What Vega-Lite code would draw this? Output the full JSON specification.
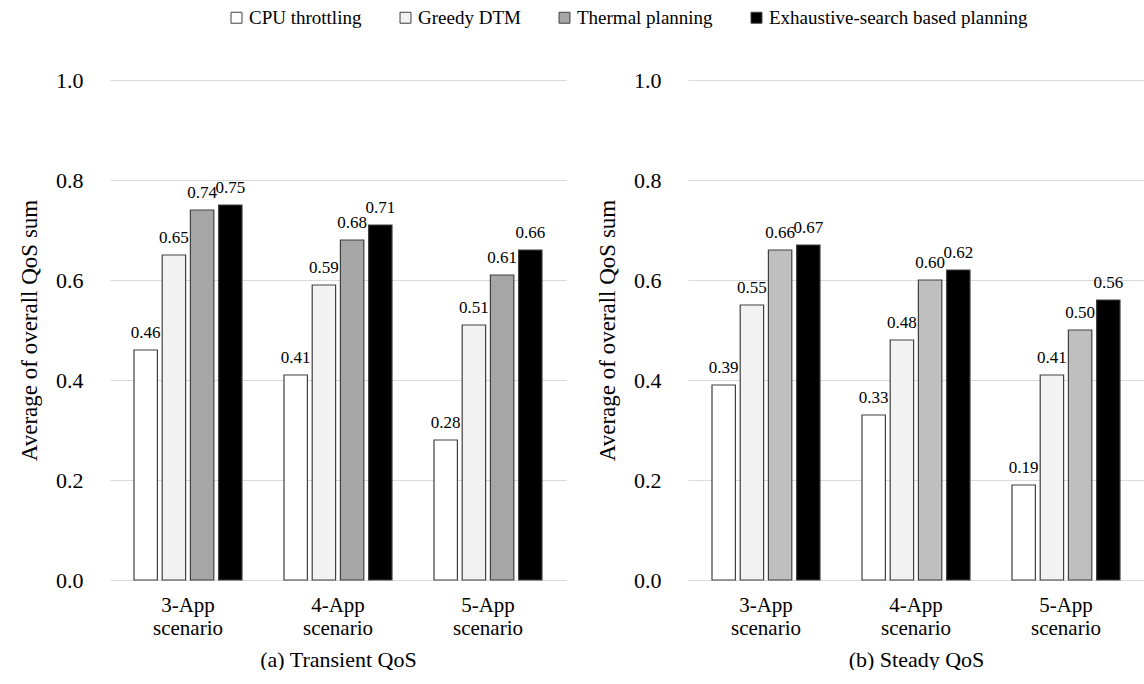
{
  "$schema": "https://vega.github.io/schema/vega-lite/v6.json",
  "background": "white",
  "padding": {"left": 18, "top": 8, "right": 0, "bottom": 0},
  "config": {
    "font": "'Liberation Serif', serif",
    "view": {"stroke": null},
    "text": {"font": "'Liberation Serif', serif"},
    "axis": {
      "labelFont": "'Liberation Serif', serif",
      "titleFont": "'Liberation Serif', serif",
      "labelColor": "#000000",
      "titleColor": "#000000",
      "gridColor": "#d9d9d9",
      "gridWidth": 1
    },
    "legend": {
      "labelFont": "'Liberation Serif', serif"
    },
    "concat": {"spacing": 30}
  },
  "data": {
    "values": [
      {"panel": "transient", "scenario": "3-App scenario", "method": "CPU throttling", "qos": 0.46},
      {"panel": "transient", "scenario": "3-App scenario", "method": "Greedy DTM", "qos": 0.65},
      {"panel": "transient", "scenario": "3-App scenario", "method": "Thermal planning", "qos": 0.74},
      {"panel": "transient", "scenario": "3-App scenario", "method": "Exhaustive-search based planning", "qos": 0.75},
      {"panel": "transient", "scenario": "4-App scenario", "method": "CPU throttling", "qos": 0.41},
      {"panel": "transient", "scenario": "4-App scenario", "method": "Greedy DTM", "qos": 0.59},
      {"panel": "transient", "scenario": "4-App scenario", "method": "Thermal planning", "qos": 0.68},
      {"panel": "transient", "scenario": "4-App scenario", "method": "Exhaustive-search based planning", "qos": 0.71},
      {"panel": "transient", "scenario": "5-App scenario", "method": "CPU throttling", "qos": 0.28},
      {"panel": "transient", "scenario": "5-App scenario", "method": "Greedy DTM", "qos": 0.51},
      {"panel": "transient", "scenario": "5-App scenario", "method": "Thermal planning", "qos": 0.61},
      {"panel": "transient", "scenario": "5-App scenario", "method": "Exhaustive-search based planning", "qos": 0.66},
      {"panel": "steady", "scenario": "3-App scenario", "method": "CPU throttling", "qos": 0.39},
      {"panel": "steady", "scenario": "3-App scenario", "method": "Greedy DTM", "qos": 0.55},
      {"panel": "steady", "scenario": "3-App scenario", "method": "Thermal planning", "qos": 0.66},
      {"panel": "steady", "scenario": "3-App scenario", "method": "Exhaustive-search based planning", "qos": 0.67},
      {"panel": "steady", "scenario": "4-App scenario", "method": "CPU throttling", "qos": 0.33},
      {"panel": "steady", "scenario": "4-App scenario", "method": "Greedy DTM", "qos": 0.48},
      {"panel": "steady", "scenario": "4-App scenario", "method": "Thermal planning", "qos": 0.60},
      {"panel": "steady", "scenario": "4-App scenario", "method": "Exhaustive-search based planning", "qos": 0.62},
      {"panel": "steady", "scenario": "5-App scenario", "method": "CPU throttling", "qos": 0.19},
      {"panel": "steady", "scenario": "5-App scenario", "method": "Greedy DTM", "qos": 0.41},
      {"panel": "steady", "scenario": "5-App scenario", "method": "Thermal planning", "qos": 0.50},
      {"panel": "steady", "scenario": "5-App scenario", "method": "Exhaustive-search based planning", "qos": 0.56}
    ]
  },
  "hconcat": [
    {
      "width": 456,
      "height": 500,
      "transform": [{"filter": "datum.panel === 'transient'"}],
      "encoding": {
        "x": {
          "field": "scenario",
          "type": "nominal",
          "scale": {"paddingInner": 0.28, "paddingOuter": 0.16},
          "axis": {
            "title": "(a) Transient QoS",
            "titleFontSize": 22,
            "titleFontWeight": "normal",
            "titlePadding": 11,
            "labelExpr": "split(datum.label, ' ')",
            "labelFontSize": 21,
            "labelAngle": 0,
            "labelPadding": 14,
            "labelLineHeight": 23,
            "domain": false,
            "ticks": false
          }
        },
        "xOffset": {
          "field": "method",
          "type": "nominal",
          "sort": ["CPU throttling", "Greedy DTM", "Thermal planning", "Exhaustive-search based planning"],
          "scale": {"paddingInner": 0.17, "paddingOuter": 0}
        },
        "y": {
          "field": "qos",
          "type": "quantitative",
          "scale": {"domain": [0, 1]},
          "axis": {
            "title": "Average of overall QoS sum",
            "titleFontSize": 23,
            "titleFontWeight": "normal",
            "titlePadding": 14,
            "values": [0, 0.2, 0.4, 0.6, 0.8, 1.0],
            "format": ".1f",
            "labelFontSize": 22,
            "labelPadding": 27,
            "domain": false,
            "ticks": false
          }
        }
      },
      "layer": [
        {
          "mark": {"type": "bar", "stroke": "#404040", "strokeWidth": 1.2},
          "encoding": {
            "color": {
              "field": "method",
              "type": "nominal",
              "sort": ["CPU throttling", "Greedy DTM", "Thermal planning", "Exhaustive-search based planning"],
              "scale": {
                "domain": ["CPU throttling", "Greedy DTM", "Thermal planning", "Exhaustive-search based planning"],
                "range": ["#ffffff", "#f2f2f2", "#a6a6a6", "#000000"]
              },
              "legend": {
                "title": null,
                "orient": "none",
                "legendX": 117,
                "legendY": -72,
                "direction": "horizontal",
                "symbolType": "square",
                "symbolSize": 120,
                "symbolStrokeColor": "#404040",
                "symbolStrokeWidth": 1,
                "labelFontSize": 19,
                "labelLimit": 0,
                "labelColor": "#000000",
                "labelOffset": 3,
                "columnPadding": 34
              }
            }
          }
        },
        {
          "mark": {"type": "text", "baseline": "bottom", "dy": -8, "fontSize": 17, "color": "#000000"},
          "encoding": {
            "text": {"field": "qos", "type": "quantitative", "format": ".2f"}
          }
        }
      ]
    },
    {
      "width": 456,
      "height": 500,
      "transform": [{"filter": "datum.panel === 'steady'"}],
      "encoding": {
        "x": {
          "field": "scenario",
          "type": "nominal",
          "scale": {"paddingInner": 0.28, "paddingOuter": 0.16},
          "axis": {
            "title": "(b) Steady QoS",
            "titleFontSize": 22,
            "titleFontWeight": "normal",
            "titlePadding": 11,
            "labelExpr": "split(datum.label, ' ')",
            "labelFontSize": 21,
            "labelAngle": 0,
            "labelPadding": 14,
            "labelLineHeight": 23,
            "domain": false,
            "ticks": false
          }
        },
        "xOffset": {
          "field": "method",
          "type": "nominal",
          "sort": ["CPU throttling", "Greedy DTM", "Thermal planning", "Exhaustive-search based planning"],
          "scale": {"paddingInner": 0.17, "paddingOuter": 0}
        },
        "y": {
          "field": "qos",
          "type": "quantitative",
          "scale": {"domain": [0, 1]},
          "axis": {
            "title": "Average of overall QoS sum",
            "titleFontSize": 23,
            "titleFontWeight": "normal",
            "titlePadding": 14,
            "values": [0, 0.2, 0.4, 0.6, 0.8, 1.0],
            "format": ".1f",
            "labelFontSize": 22,
            "labelPadding": 27,
            "domain": false,
            "ticks": false
          }
        }
      },
      "layer": [
        {
          "mark": {"type": "bar", "stroke": "#404040", "strokeWidth": 1.2},
          "encoding": {
            "fill": {
              "field": "method",
              "type": "nominal",
              "scale": {
                "domain": ["CPU throttling", "Greedy DTM", "Thermal planning", "Exhaustive-search based planning"],
                "range": ["#ffffff", "#f2f2f2", "#bfbfbf", "#000000"]
              },
              "legend": null
            }
          }
        },
        {
          "mark": {"type": "text", "baseline": "bottom", "dy": -8, "fontSize": 17, "color": "#000000"},
          "encoding": {
            "text": {"field": "qos", "type": "quantitative", "format": ".2f"}
          }
        }
      ]
    }
  ]
}
